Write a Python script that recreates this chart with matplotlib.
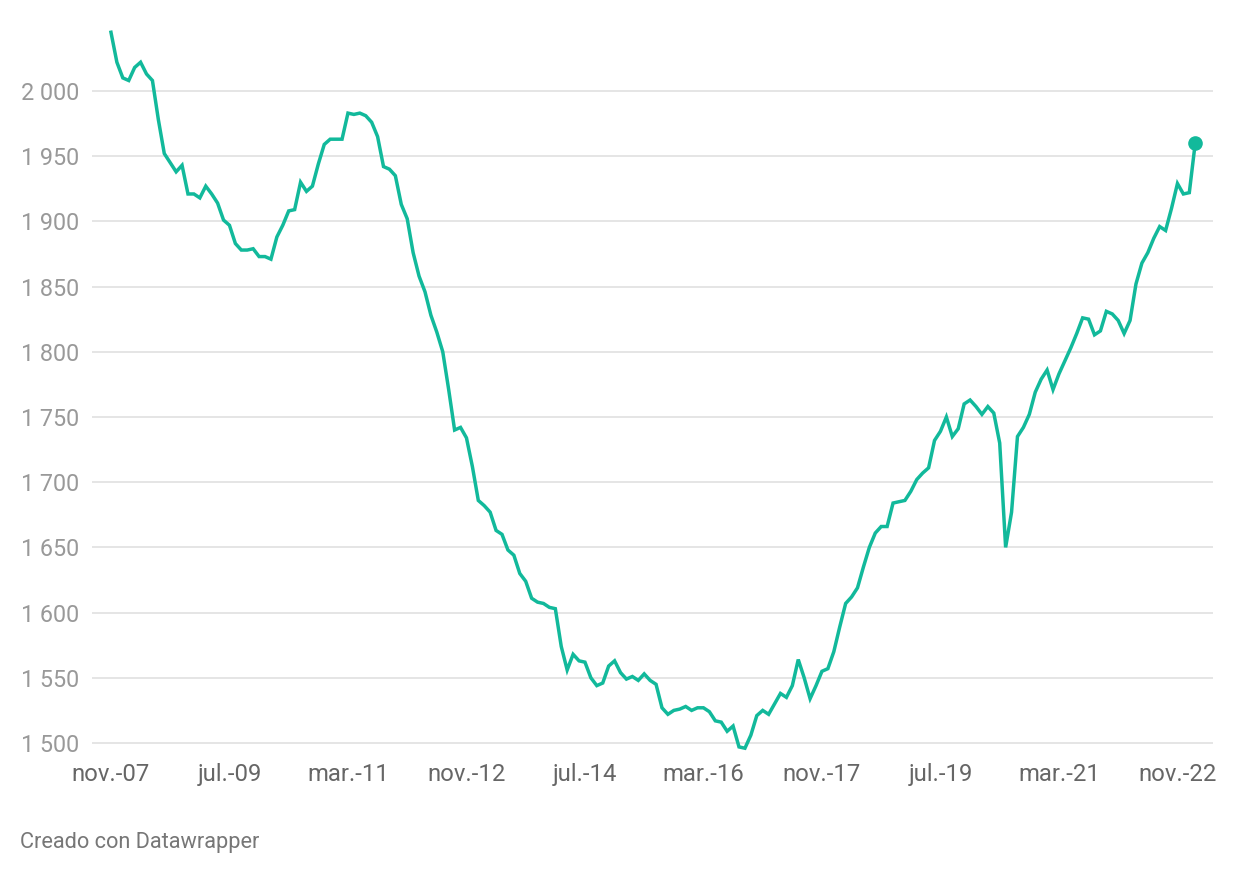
import numpy as np
import matplotlib
matplotlib.use("Agg")
import matplotlib.pyplot as plt

plt.rcParams['font.family'] = ['Roboto', 'DejaVu Sans']

# monthly values, nov-2007 .. feb-2023
values = [
    2045, 2022, 2010, 2008, 2018, 2022, 2013, 2008, 1978, 1952,
    1945, 1938, 1943, 1921, 1921, 1918, 1927, 1921, 1914, 1901,
    1897, 1883, 1878, 1878, 1879, 1873, 1873, 1871, 1888, 1897,
    1908, 1909, 1930, 1923, 1927, 1944, 1959, 1963, 1963, 1963,
    1983, 1982, 1983, 1981, 1976, 1965, 1942, 1940, 1935, 1913,
    1902, 1876, 1858, 1846, 1828, 1815, 1800, 1771, 1740, 1742,
    1734, 1712, 1686, 1682, 1677, 1663, 1660, 1648, 1644, 1630,
    1624, 1611, 1608, 1607, 1604, 1603, 1574, 1556, 1568, 1563,
    1562, 1550, 1544, 1546, 1559, 1563, 1554, 1549, 1551, 1548,
    1553, 1548, 1545, 1527, 1522, 1525, 1526, 1528, 1525, 1527,
    1527, 1524, 1517, 1516, 1509, 1513, 1497, 1496, 1506, 1521,
    1525, 1522, 1530, 1538, 1535, 1544, 1564, 1550, 1534, 1544,
    1555, 1557, 1570, 1589, 1607, 1612, 1619, 1635, 1650, 1661,
    1666, 1666, 1684, 1685, 1686, 1693, 1702, 1707, 1711, 1732,
    1739, 1750, 1735, 1741, 1760, 1763, 1758, 1752, 1758, 1753,
    1730, 1650, 1677, 1735, 1742, 1752, 1769, 1779, 1786, 1771,
    1783, 1793, 1803, 1814, 1826, 1825, 1813, 1816, 1831, 1829,
    1824, 1814, 1824, 1852, 1868, 1876, 1887, 1896, 1893, 1910,
    1929, 1921, 1922, 1960,
]

tick_labels = ["nov.-07", "jul.-09", "mar.-11", "nov.-12", "jul.-14",
               "mar.-16", "nov.-17", "jul.-19", "mar.-21", "nov.-22"]
y_ticks = [1500, 1550, 1600, 1650, 1700, 1750, 1800, 1850, 1900, 1950, 2000]

teal = '#12b99b'

fig = plt.figure(figsize=(12.4, 8.74), dpi=100)
ax = fig.add_axes([92/1240, 1 - 755/874, (1213-92)/1240, (755-20)/874])

x = np.arange(len(values))
for yt in y_ticks:
    ax.axhline(yt, color='#e3e3e3', lw=1.3, zorder=0)
ax.plot(x, values, color=teal, lw=2.5, solid_joinstyle='miter', clip_on=False, zorder=3)
ax.plot(x[-1], values[-1], 'o', color=teal, ms=9.5, clip_on=False, zorder=4)

ax.set_xlim(-3.2, 186.0)
ax.set_ylim(1490.8, 2054.4)

ax.set_yticks(y_ticks)
ax.set_yticklabels(["{:,}".format(v).replace(",", " ") for v in y_ticks])
ax.set_xticks(np.arange(0, len(values), 20))
ax.set_xticklabels(tick_labels)

ax.tick_params(axis='y', length=0, pad=9, labelsize=16.8, labelcolor='#999999')
ax.tick_params(axis='x', length=0, pad=5.5, labelsize=17.2, labelcolor='#666666')
for s in ax.spines.values():
    s.set_visible(False)

fig.text(20/1240, 1 - 848/874, "Creado con Datawrapper", fontsize=15.7,
         color='#777777', va='baseline', ha='left')

fig.savefig("out.png", dpi=100, facecolor='white')
